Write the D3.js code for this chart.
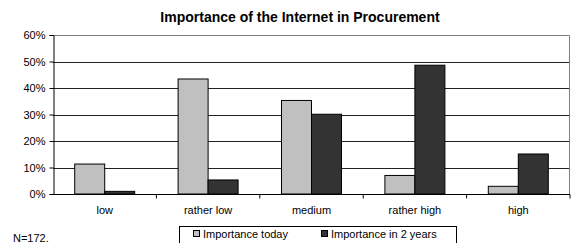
<!DOCTYPE html>
<html>
<head>
<meta charset="utf-8">
<script src="https://cdn.jsdelivr.net/npm/d3@7"></script>
<style>
  body { margin: 0; background: #fff; }
  svg { font-family: "Liberation Sans", Arial, sans-serif; }
</style>
</head>
<body>
<svg id="chart" width="578" height="243"></svg>
<script>
// data
var categories = ["low", "rather low", "medium", "rather high", "high"];
var seriesNames = ["Importance today", "Importance in 2 years"];
var today = [11.3, 43.4, 35.3, 7.0, 2.9];
var in2years = [1.0, 5.3, 30.1, 48.6, 15.1];
var yTicks = [0, 10, 20, 30, 40, 50, 60];
var colors = ["#c0c0c0", "#333333"];

var svg = d3.select("#chart");
var margin = { left: 53, right: 8, top: 35, bottom: 49 };
var W = 578, H = 243;

var x = d3.scaleBand().domain(categories).range([margin.left, W - margin.right]);
var y = d3.scaleLinear().domain([0, 60]).range([H - margin.bottom, margin.top]);
var bw = 30;

// title
svg.append("text")
  .attr("x", 300).attr("y", 21.5)
  .attr("text-anchor", "middle")
  .style("font-size", "14px").style("font-weight", "bold")
  .text("Importance of the Internet in Procurement");

// gridlines
svg.append("g").selectAll("line").data(yTicks.slice(1, -1)).enter().append("line")
  .attr("x1", margin.left).attr("x2", W - margin.right)
  .attr("y1", d => Math.round(y(d)) + 0.5).attr("y2", d => Math.round(y(d)) + 0.5)
  .attr("stroke", "#222").attr("stroke-width", 1);

// plot border (top / right)
svg.append("path")
  .attr("d", "M" + margin.left + "," + (Math.round(y(60)) + 0.5) + "H" + (W - margin.right - 0.5) + "V" + y(0))
  .attr("fill", "none").attr("stroke", "#808080");

// bars
var groups = svg.append("g").selectAll("g").data(categories).enter().append("g");
[today, in2years].forEach(function (vals, s) {
  groups.append("rect")
    .attr("x", (d, i) => x(d) + x.bandwidth() / 2 - bw + s * bw)
    .attr("y", (d, i) => y(vals[i]))
    .attr("width", bw)
    .attr("height", (d, i) => y(0) - y(vals[i]))
    .attr("fill", colors[s])
    .attr("stroke", "#000").attr("stroke-width", 1);
});

// y axis
var yAxis = d3.axisLeft(y).tickValues(yTicks).tickSize(4).tickFormat(d => d + "%");
var yg = svg.append("g").attr("transform", "translate(" + (margin.left + 0.5) + ",0)").call(yAxis);
yg.select(".domain").attr("stroke", "#000");
yg.selectAll("text").style("font-size", "11px").attr("fill", "#000").attr("dx", "-1");

// x axis
var xAxis = d3.axisBottom(x).tickSize(0).tickPadding(12);
var xg = svg.append("g").attr("transform", "translate(0," + (Math.round(y(0)) + 0.5) + ")").call(xAxis);
xg.select(".domain").attr("stroke", "#000").attr("d", "M" + margin.left + ",0H" + (W - margin.right));
xg.selectAll("text").style("font-size", "11px").attr("fill", "#000");
// category separators
xg.append("g").selectAll("line").data(categories.slice(1).concat(["_end"])).enter().append("line")
  .attr("x1", d => d === "_end" ? W - margin.right : x(d))
  .attr("x2", d => d === "_end" ? W - margin.right : x(d))
  .attr("y1", 0).attr("y2", 4)
  .attr("stroke", "#000");

// note
svg.append("text").attr("x", 13).attr("y", 241.5)
  .style("font-size", "11px").text("N=172.");

// legend
var lg = svg.append("g");
lg.append("rect").attr("x", 179.5).attr("y", 226.5).attr("width", 277).attr("height", 20)
  .attr("fill", "#fff").attr("stroke", "#000");
var legX = [193, 321];
seriesNames.forEach(function (name, i) {
  lg.append("rect").attr("x", legX[i] + 0.5).attr("y", 230.5).attr("width", 6).attr("height", 6)
    .attr("fill", colors[i]).attr("stroke", "#000");
  lg.append("text").attr("x", legX[i] + 10).attr("y", 237.5)
    .style("font-size", "11px").text(name);
});
</script>
</body>
</html>
